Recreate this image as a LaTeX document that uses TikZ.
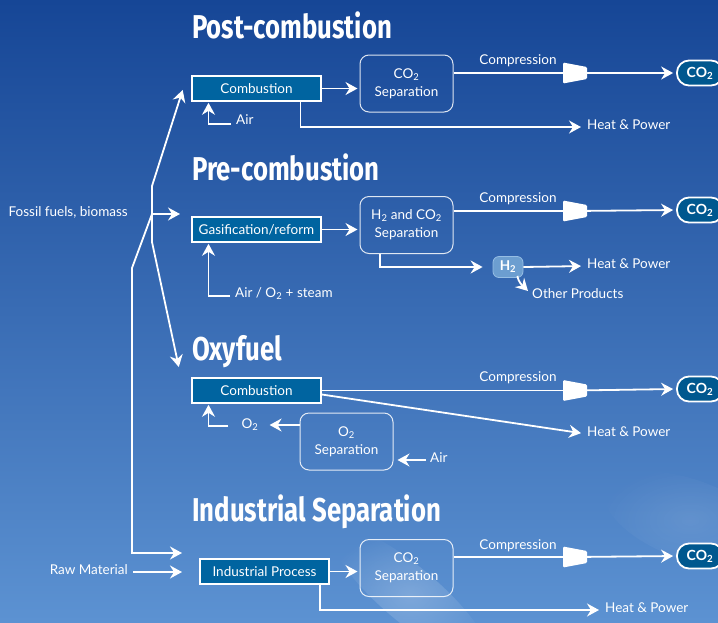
\documentclass[tikz,border=0pt]{standalone}
\usepackage{fontspec}
\setmainfont{Lato}
\newfontfamily\titlefont{Fira Sans}[UprightFont={* Bold}, FakeStretch=0.78]
\usetikzlibrary{arrows.meta,fadings}
\definecolor{bgtop}{RGB}{22,70,150}
\definecolor{bgmid}{RGB}{40,100,178}
\definecolor{bgbot}{RGB}{92,146,210}
\definecolor{procblue}{RGB}{0,100,160}
\definecolor{pillblue}{RGB}{0,88,143}
\definecolor{htwo}{RGB}{108,158,208}
\newcommand\bodysize{\fontsize{13.5}{18}\selectfont}
\tikzfading[name=cloudfade, inner color=transparent!0, outer color=transparent!100]
\begin{document}
\begin{tikzpicture}[x=1pt,y=-1pt,
  ln/.style={draw=white, line width=1.8pt},
  arr/.style={ln, -{Stealth[length=12pt,width=13pt,inset=4pt]}, shorten >=1pt},
  proc/.style={draw=white, line width=1.6pt, fill=procblue, minimum width=129pt, minimum height=25pt, inner sep=0pt, text=white, font=\bodysize},
  sep/.style={draw=white, draw opacity=0.85, line width=1pt, rounded corners=9pt, minimum width=93pt, minimum height=57pt, inner sep=0pt, align=center, text=white, font=\bodysize},
  pill/.style={draw=white, line width=1.8pt, fill=pillblue, rounded corners=12pt, minimum width=46pt, minimum height=25pt, inner sep=0pt, text=white, font=\fontsize{14}{16}\selectfont\bfseries},
  lbl/.style={text=white, font=\bodysize, inner sep=0pt},
  title/.style={text=white, font=\titlefont\fontsize{33}{36}\selectfont, inner sep=0pt, anchor=base west},
  compr/.pic={\fill[white, rounded corners=1.2pt] (-12,-10.5) -- (12,-6) -- (12,6) -- (-12,10.5) -- cycle;}
]
\useasboundingbox (0,0) rectangle (718,622);
\shade[top color=bgtop, middle color=bgmid, bottom color=bgbot] (0,0) rectangle (718,622);
\fill[white, opacity=0.22, path fading=cloudfade, rotate around={-40:(410,595)}] (410,595) ellipse (100 and 28);
\fill[white, opacity=0.10, path fading=cloudfade, rotate around={-20:(690,520)}] (690,520) ellipse (90 and 40);

% titles
\node[title] (tpost) at (192,38) {Post-combustion};
\node[title] (tpre) at (192,180) {Pre-combustion};
\node[title] (toxy) at (192,360) {Oxyfuel};
\node[title] (tind) at (192,521) {Industrial Separation};

% left tree
\node[lbl, anchor=mid east] (fossil) at (128,214) {Fossil fuels, biomass};
\node[lbl, anchor=mid east] (raw) at (128,572) {Raw Material};
\coordinate (j1) at (152,186);
\coordinate (jm) at (152,214);
\coordinate (j2) at (152,242);
\coordinate (k1) at (132,268);
\coordinate (k2) at (132,553);
\coordinate (a1) at (183,89);
\coordinate (a2) at (181,214);
\coordinate (a3) at (179,368);
\coordinate (a4) at (183,553);
\coordinate (a5) at (183,572);
\draw[ln] (j1) -- (j2);
\draw[arr] (j1) -- (a1);
\draw[arr] (jm) -- (a2);
\draw[arr] (j2) -- (a3);
\draw[arr] (jm) -- (k1) -- (k2) -- (a4);
\draw[arr] ([xshift=5pt]raw.mid east) -- (a5);

% ---------- Post-combustion
\node[proc] (comb1) at (256.5,88.5) {Combustion};
\node[sep] (sep1) at (406.5,83.5) {CO\textsubscript{2}\\Separation};
\coordinate (cmp1) at (575,73);
\node[pill] (out1) at (700,73) {CO\textsubscript{2}};
\node[lbl] (cl1) at (518,61) {Compression};
\node[lbl, anchor=mid west] (hp1) at (587,127) {Heat \& Power};
\node[lbl, anchor=mid west] (air1) at (236,122) {Air};
\draw[arr, shorten >=2pt] (comb1.east) -- (sep1.west |- comb1.east);
\draw[ln] (sep1.east |- cmp1) -- (cmp1);
\draw[arr, shorten >=3pt] (cmp1) -- (out1.west);
\pic at (cmp1) {compr};
\draw[arr, shorten >=6pt] ([xshift=44pt]comb1.south) |- (hp1.mid west);
\draw[arr] ([xshift=-5pt,yshift=-2pt]air1.mid west) -| ([xshift=-48pt]comb1.south);

% ---------- Pre-combustion
\node[proc] (gas) at (256.5,229.5) {Gasification/reform};
\node[sep] (sep2) at (406.5,225) {H\textsubscript{2} and CO\textsubscript{2}\\Separation};
\coordinate (cmp2) at (575,211);
\node[pill] (out2) at (700,210) {CO\textsubscript{2}};
\node[lbl] (cl2) at (518,199) {Compression};
\node[draw={rgb,255:red,150;green,190;blue,228}, line width=0.8pt, fill=htwo, rounded corners=6pt, minimum width=30pt, minimum height=21pt, inner sep=0pt, text=white, font=\bodysize\bfseries] (h2) at (508,267) {H\textsubscript{2}};
\node[lbl, anchor=mid west] (hp2) at (587,266) {Heat \& Power};
\node[lbl, anchor=mid west] (oth) at (532,296) {Other Products};
\node[lbl, anchor=mid west] (airs) at (235,295) {Air / O\textsubscript{2} + steam};
\coordinate (a6) at (528,291);
\draw[arr, shorten >=2pt] (gas.east) -- (sep2.west |- gas.east);
\draw[ln] (sep2.east |- cmp2) -- (cmp2);
\draw[arr, shorten >=3pt] (cmp2) -- (out2.west);
\pic at (cmp2) {compr};
\draw[arr, shorten >=10pt] ([xshift=-26.5pt]sep2.south) |- (h2.west);
\draw[arr, shorten >=6pt] (h2.east) -- (hp2.mid west);
\draw[arr, shorten >=0pt] ([xshift=-6pt,yshift=2pt]h2.south east) to[out=-80,in=135] (a6);
\draw[arr] ([xshift=-5pt,yshift=-1pt]airs.mid west) -| ([xshift=-48pt]gas.south);

% ---------- Oxyfuel
\node[proc] (comb3) at (256.5,390.5) {Combustion};
\coordinate (cmp3) at (575,390.5);
\node[pill] (out3) at (700,389) {CO\textsubscript{2}};
\node[lbl] (cl3) at (518,378) {Compression};
\node[lbl, anchor=mid west] (hp3) at (587,434) {Heat \& Power};
\node[sep] (sep3) at (346.5,441.5) {O\textsubscript{2}\\Separation};
\node[lbl] (o2) at (250,425) {O\textsubscript{2}};
\node[lbl, anchor=mid west] (air3) at (430,460) {Air};
\draw[ln] (comb3.east) -- (cmp3);
\draw[arr, shorten >=3pt] (cmp3) -- (out3.west);
\pic at (cmp3) {compr};
\draw[arr, shorten >=6pt] ([yshift=-4pt]comb3.east) -- (hp3.mid west);
\draw[arr, shorten >=11pt] (sep3.west |- o2) -- (o2.east);
\draw[arr] ([xshift=-13pt,yshift=-1pt]o2.west) -| ([xshift=-48pt]comb3.south);
\draw[arr, shorten >=4pt] ([xshift=-4pt]air3.mid west) -- (sep3.east |- air3.mid west);

% ---------- Industrial
\node[proc] (ind) at (264.5,571.5) {Industrial Process};
\node[sep] (sep4) at (406.5,568) {CO\textsubscript{2}\\Separation};
\coordinate (cmp4) at (575,557);
\node[pill] (out4) at (700,556) {CO\textsubscript{2}};
\node[lbl] (cl4) at (518,546) {Compression};
\node[lbl, anchor=mid west] (hp4) at (605,610) {Heat \& Power};
\draw[arr, shorten >=2pt] (ind.east) -- (sep4.west |- ind.east);
\draw[ln] (sep4.east |- cmp4) -- (cmp4);
\draw[arr, shorten >=3pt] (cmp4) -- (out4.west);
\pic at (cmp4) {compr};
\draw[arr, shorten >=6pt] ([xshift=55.5pt]ind.south) |- (hp4.mid west);
\end{tikzpicture}
\end{document}
